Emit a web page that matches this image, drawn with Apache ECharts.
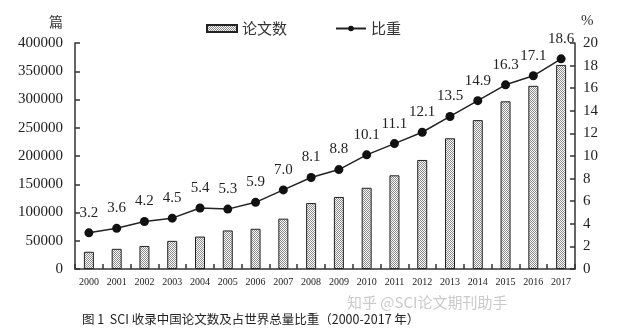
<!DOCTYPE html>
<html>
<head>
<meta charset="utf-8">
<script src="https://cdn.jsdelivr.net/npm/echarts@6/dist/echarts.min.js"></script>
<style>
  html, body { margin: 0; padding: 0; background: #fff; }
  #chart { width: 640px; height: 332px; }
</style>
</head>
<body>
<div id="chart"></div>
<script>
// SCI-indexed Chinese papers and share of world total, 2000-2017
const years = ['2000','2001','2002','2003','2004','2005','2006','2007','2008','2009',
               '2010','2011','2012','2013','2014','2015','2016','2017'];
const paperCounts = [30500, 35700, 40800, 49800, 57400, 68200, 71200, 89100, 116700, 127500,
                     143800, 165800, 193000, 231400, 263500, 296800, 324200, 361200];
const worldShare = [3.2, 3.6, 4.2, 4.5, 5.4, 5.3, 5.9, 7.0, 8.1, 8.8,
                    10.1, 11.1, 12.1, 13.5, 14.9, 16.3, 17.1, 18.6];
const leftTicks = { min: 0, max: 400000, interval: 50000 };
const rightTicks = { min: 0, max: 20, interval: 2 };

// stippled fill for the bars
function dotPattern() {
  const c = document.createElement('canvas');
  c.width = 2; c.height = 2;
  const g = c.getContext('2d');
  g.fillStyle = '#ffffff';
  g.fillRect(0, 0, 2, 2);
  g.fillStyle = '#8a8a8a';
  g.fillRect(0, 0, 1, 1);
  g.fillRect(1, 1, 1, 1);
  return c;
}

const serif = '"Liberation Serif", "DejaVu Serif", serif';
const cjk = '"Noto Sans CJK SC", sans-serif';
const axisColor = '#333';

const chart = echarts.init(document.getElementById('chart'), null, { renderer: 'canvas' });
chart.setOption({
  animation: false,
  backgroundColor: '#fff',
  grid: { left: 75, right: 65, top: 43, bottom: 63 },
  legend: {
    top: 16,
    left: 201,
    itemGap: 48,
    itemWidth: 30,
    itemHeight: 7,
    textStyle: { fontFamily: cjk, fontSize: 15, color: '#333' },
    data: [
      { name: '论文数', icon: 'rect' },
      { name: '比重' }
    ]
  },
  xAxis: {
    type: 'category',
    data: years,
    boundaryGap: true,
    axisLine: { lineStyle: { color: axisColor, width: 1.5 } },
    axisTick: { show: true, inside: true, length: 5, lineStyle: { color: axisColor, width: 1.5 } },
    axisLabel: { fontFamily: serif, fontSize: 10, color: '#222', margin: 8, interval: 0 }
  },
  yAxis: [
    {
      type: 'value',
      min: leftTicks.min, max: leftTicks.max, interval: leftTicks.interval,
      axisLine: { show: true, lineStyle: { color: axisColor, width: 1.5 } },
      axisTick: { show: true, inside: true, length: 5, lineStyle: { color: axisColor, width: 1.5 } },
      splitLine: { show: false },
      axisLabel: { fontFamily: serif, fontSize: 15, color: '#222', margin: 12, formatter: v => String(v) }
    },
    {
      type: 'value',
      min: rightTicks.min, max: rightTicks.max, interval: rightTicks.interval,
      position: 'right',
      axisLine: { show: true, lineStyle: { color: axisColor, width: 1.5 } },
      axisTick: { show: true, inside: true, length: 5, lineStyle: { color: axisColor, width: 1.5 } },
      splitLine: { show: false },
      axisLabel: { fontFamily: serif, fontSize: 15, color: '#222', margin: 8 }
    }
  ],
  series: [
    {
      name: '论文数',
      type: 'bar',
      yAxisIndex: 0,
      data: paperCounts,
      barWidth: 10,
      itemStyle: {
        color: { image: dotPattern(), repeat: 'repeat' },
        borderColor: '#222',
        borderWidth: 1
      }
    },
    {
      name: '比重',
      type: 'line',
      yAxisIndex: 1,
      data: worldShare,
      symbol: 'circle',
      symbolSize: 9,
      lineStyle: { color: '#222', width: 1.5 },
      itemStyle: { color: '#111' },
      label: {
        show: true,
        position: 'top',
        distance: 8,
        fontFamily: serif,
        fontSize: 15,
        color: '#222',
        formatter: p => p.value.toFixed(1)
      }
    }
  ],
  graphic: [
    { type: 'text', left: 49, top: 15, style: { text: '篇', font: '14px ' + cjk, fill: '#333' } },
    { type: 'text', left: 581, top: 14, style: { text: '%', font: '15px ' + serif, fill: '#333' } },
    { type: 'text', left: 347, top: 295, style: { text: '知乎 @SCI论文期刊助手', font: '15px ' + cjk, fill: 'rgba(180,180,180,0.7)' } },
    { type: 'text', left: 82, top: 313, style: { text: '图 1  SCI 收录中国论文数及占世界总量比重（2000-2017 年）', font: '12.5px ' + cjk, fill: '#222' } }
  ]
});
</script>
</body>
</html>
